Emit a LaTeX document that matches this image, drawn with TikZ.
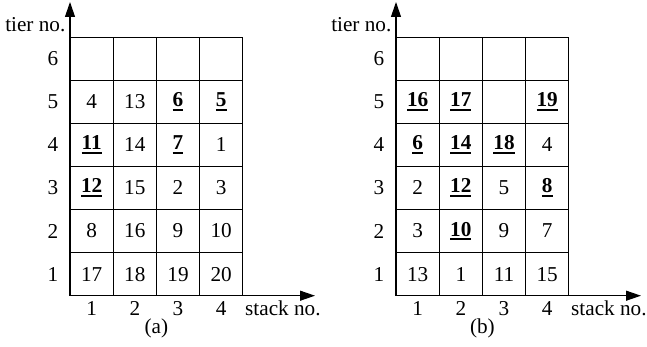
\documentclass[tikz,border=0pt]{standalone}
\usepackage{fontspec}
\setmainfont{Liberation Serif}
\usetikzlibrary{arrows.meta}
\newcommand\mybu[1]{\setbox0\hbox{\textbf{#1}}\rlap{\rule[-4pt]{\wd0}{1.8pt}}\box0}
\newcommand\drawpanel[4]{%
\begin{scope}[xshift=#2]
  \coordinate (#1O) at (70,295.7);
  \coordinate (#1Y) at (70,2);
  \coordinate (#1X) at (315,295.7);
  \foreach \c/\r/\t in {#3} {
    \node[cell] (#1-\c-\r) at ({70+43.2*(\c-0.5)},{295.7-43.1*(\r-0.5)}) {\t};
  }
  \foreach \r in {1,...,6} {
    \node[lab] (#1-row\r) at (53,{295.7-43.1*(\r-0.5)}) {\r};
  }
  \foreach \c in {1,...,4} {
    \node[lab, anchor=base] (#1-col\c) at ({70+43.2*(\c-0.5)},315.5) {\c};
  }
  \draw[axis] (#1O) -- (#1Y);
  \draw[axis] (#1O) -- (#1X);
  \node[lab, anchor=base east] (#1-tier) at (65.5,31.7) {tier no.};
  \node[lab, anchor=base west] (#1-stack) at (245,315.5) {stack no.};
  \node[lab, anchor=base] (#1-cap) at (156.4,333.5) {#4};
\end{scope}}
\begin{document}
\begin{tikzpicture}[x=1pt,y=-1pt,
  font=\fontsize{21.2}{25}\selectfont,
  cell/.style={draw, line width=0.95pt, minimum width=43.2pt, minimum height=43.1pt, inner sep=0pt, anchor=center},
  lab/.style={inner sep=0pt},
  axis/.style={line width=1.1pt, -{Triangle[length=15pt,width=10pt]}}]
\path[use as bounding box] (0,0) rectangle (647,347);
\drawpanel{a}{0}{1/6/{},2/6/{},3/6/{},4/6/{},
  1/5/4,2/5/13,3/5/\mybu{6},4/5/\mybu{5},
  1/4/\mybu{11},2/4/14,3/4/\mybu{7},4/4/1,
  1/3/\mybu{12},2/3/15,3/3/2,4/3/3,
  1/2/8,2/2/16,3/2/9,4/2/10,
  1/1/17,2/1/18,3/1/19,4/1/20}{(a)}
\drawpanel{b}{326}{1/6/{},2/6/{},3/6/{},4/6/{},
  1/5/\mybu{16},2/5/\mybu{17},3/5/{},4/5/\mybu{19},
  1/4/\mybu{6},2/4/\mybu{14},3/4/\mybu{18},4/4/4,
  1/3/2,2/3/\mybu{12},3/3/5,4/3/\mybu{8},
  1/2/3,2/2/\mybu{10},3/2/9,4/2/7,
  1/1/13,2/1/1,3/1/11,4/1/15}{(b)}
\end{tikzpicture}
\end{document}
